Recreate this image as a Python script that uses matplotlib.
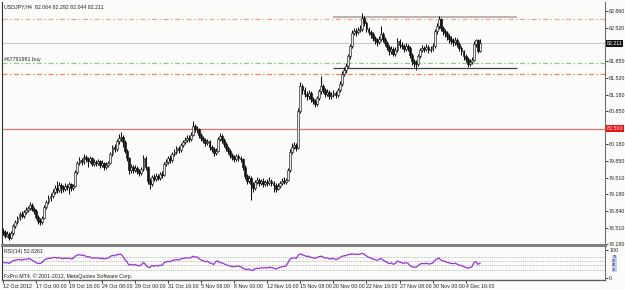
"""
USDJPY H4 chart with RSI(14) sub-window, MetaTrader style
"""
import matplotlib
matplotlib.use('Agg')
import matplotlib.pyplot as plt

plt.rcParams['font.family'] = ['Liberation Sans', 'DejaVu Sans']

# ---------------------------------------------------------------------------------------------------------------------
# Data
# ---------------------------------------------------------------------------------------------------------------------
first_open = 78.45
closes = [
    78.42, 78.35, 78.38, 78.30, 78.40, 78.55, 78.62, 78.70, 78.78, 78.74,
    78.82, 78.86, 78.90, 78.96, 78.88, 78.84, 78.72, 78.64, 78.62, 78.70,
    78.92, 79.02, 79.10, 79.14, 79.22, 79.30, 79.26, 79.36, 79.32, 79.28,
    79.35, 79.32, 79.38, 79.30, 79.34, 79.62, 79.80, 79.86, 79.82, 79.93,
    79.88, 79.84, 79.90, 79.78, 79.82, 79.80, 79.84, 79.76, 79.80, 79.72,
    79.76, 79.80, 79.98, 80.12, 80.08, 80.24, 80.30, 80.33, 80.22, 80.05,
    79.90, 79.66, 79.72, 79.66, 79.70, 79.64, 79.60, 79.68, 79.90, 79.72,
    79.45, 79.38, 79.52, 79.48, 79.55, 79.50, 79.58, 79.56, 79.78, 79.82,
    79.90, 79.86, 79.98, 80.02, 80.10, 80.06, 80.16, 80.22, 80.26, 80.30,
    80.28, 80.36, 80.55, 80.48, 80.50, 80.36, 80.30, 80.26, 80.20, 80.24,
    80.12, 80.08, 80.00, 80.05, 80.28, 80.34, 80.26, 80.18, 80.10, 80.04,
    79.96, 79.92, 79.88, 79.94, 79.90, 79.88, 79.72, 79.55, 79.45, 79.50,
    79.38, 79.30, 79.42, 79.46, 79.40, 79.44, 79.38, 79.42, 79.40, 79.45,
    79.40, 79.36, 79.28, 79.34, 79.40, 79.44, 79.42, 79.46, 79.66, 80.02,
    80.12, 80.16, 80.10, 80.86, 81.36, 81.28, 81.20, 81.15, 81.22, 81.10,
    81.06, 81.00, 81.12, 81.25, 81.36, 81.28, 81.20, 81.24, 81.15, 81.18,
    81.22, 81.18, 81.27, 81.40, 81.60, 81.68, 81.75, 81.95, 82.15, 82.42,
    82.46, 82.44, 82.48, 82.50, 82.72, 82.62, 82.50, 82.44, 82.40, 82.32,
    82.28, 82.24, 82.30, 82.40, 82.30, 82.22, 82.14, 82.05, 82.10, 82.00,
    82.08, 82.26, 82.18, 82.15, 82.10, 82.16, 82.12, 81.98, 81.85, 81.82,
    81.80, 81.95, 82.08, 82.12, 82.10, 82.14, 82.08, 82.10, 82.16, 82.45,
    82.55, 82.70, 82.52, 82.46, 82.42, 82.36, 82.30, 82.26, 82.24, 82.28,
    82.20, 82.12, 82.05, 81.96, 81.90, 81.80, 81.84, 81.88, 82.20, 82.28,
    82.064, 82.211,
]
highs = [
    78.50, 78.46, 78.44, 78.42, 78.44, 78.58, 78.66, 78.74, 78.82, 78.84,
    78.86, 78.92, 78.95, 79.02, 79.00, 78.92, 78.88, 78.76, 78.70, 78.74,
    78.96, 79.06, 79.16, 79.20, 79.28, 79.36, 79.44, 79.42, 79.40, 79.36,
    79.40, 79.38, 79.42, 79.40, 79.38, 79.66, 79.84, 79.92, 79.90, 79.98,
    79.96, 79.92, 79.94, 79.92, 79.88, 79.86, 79.88, 79.86, 79.86, 79.82,
    79.82, 79.84, 80.02, 80.16, 80.18, 80.28, 80.38, 80.42, 80.36, 80.26,
    80.08, 79.92, 79.78, 79.76, 79.76, 79.74, 79.68, 79.72, 79.96, 79.94,
    79.74, 79.50, 79.56, 79.58, 79.60, 79.58, 79.62, 79.64, 79.82, 79.88,
    79.94, 79.96, 80.02, 80.08, 80.14, 80.14, 80.20, 80.26, 80.32, 80.36,
    80.36, 80.42, 80.65, 80.60, 80.56, 80.52, 80.40, 80.34, 80.30, 80.28,
    80.26, 80.16, 80.12, 80.10, 80.32, 80.40, 80.38, 80.30, 80.22, 80.14,
    80.08, 80.00, 79.96, 79.98, 79.98, 79.94, 79.90, 79.76, 79.58, 79.56,
    79.54, 79.42, 79.46, 79.52, 79.50, 79.48, 79.50, 79.46, 79.48, 79.52,
    79.48, 79.44, 79.40, 79.40, 79.44, 79.50, 79.52, 79.50, 79.70, 80.08,
    80.20, 80.22, 80.20, 80.92, 81.43, 81.40, 81.34, 81.26, 81.28, 81.26,
    81.14, 81.10, 81.16, 81.30, 81.55, 81.40, 81.32, 81.30, 81.28, 81.24,
    81.28, 81.26, 81.32, 81.46, 81.66, 81.74, 81.82, 82.00, 82.20, 82.48,
    82.52, 82.52, 82.54, 82.58, 82.83, 82.76, 82.66, 82.54, 82.48, 82.44,
    82.36, 82.32, 82.36, 82.55, 82.44, 82.34, 82.26, 82.18, 82.16, 82.14,
    82.14, 82.32, 82.30, 82.24, 82.20, 82.22, 82.20, 82.16, 82.02, 81.90,
    81.88, 82.00, 82.12, 82.18, 82.16, 82.20, 82.18, 82.16, 82.22, 82.50,
    82.62, 82.76, 82.72, 82.56, 82.50, 82.46, 82.40, 82.36, 82.32, 82.34,
    82.32, 82.24, 82.16, 82.08, 82.00, 81.94, 81.90, 81.94, 82.26, 82.30,
    82.30, 82.292,
]
lows = [
    78.36, 78.30, 78.32, 78.26, 78.28, 78.37, 78.50, 78.58, 78.66, 78.70,
    78.70, 78.78, 78.82, 78.86, 78.84, 78.78, 78.68, 78.58, 78.56, 78.58,
    78.68, 78.88, 78.98, 79.04, 79.10, 79.18, 79.20, 79.22, 79.20, 79.22,
    79.24, 79.26, 79.18, 79.24, 79.26, 79.32, 79.58, 79.76, 79.76, 79.78,
    79.82, 79.72, 79.80, 79.74, 79.74, 79.74, 79.76, 79.70, 79.72, 79.66,
    79.68, 79.72, 79.78, 79.94, 80.02, 80.04, 80.18, 80.24, 80.12, 80.00,
    79.84, 79.58, 79.60, 79.60, 79.62, 79.58, 79.54, 79.56, 79.64, 79.66,
    79.38, 79.28, 79.34, 79.44, 79.44, 79.46, 79.46, 79.50, 79.54, 79.74,
    79.78, 79.80, 79.82, 79.94, 79.98, 80.00, 80.02, 80.12, 80.18, 80.22,
    80.22, 80.24, 80.34, 80.42, 80.40, 80.30, 80.24, 80.20, 80.14, 80.16,
    80.06, 80.02, 79.94, 79.96, 80.02, 80.24, 80.20, 80.12, 80.04, 79.98,
    79.90, 79.86, 79.82, 79.84, 79.84, 79.82, 79.66, 79.48, 79.38, 79.40,
    79.06, 79.22, 79.26, 79.38, 79.34, 79.36, 79.32, 79.34, 79.34, 79.36,
    79.34, 79.23, 79.22, 79.26, 79.30, 79.36, 79.38, 79.38, 79.44, 79.62,
    79.98, 80.08, 80.04, 80.08, 80.82, 81.20, 81.14, 81.08, 81.10, 81.04,
    81.00, 80.94, 80.96, 81.08, 81.20, 81.22, 81.14, 81.16, 81.10, 81.10,
    81.14, 81.12, 81.14, 81.24, 81.36, 81.56, 81.62, 81.72, 81.90, 82.12,
    82.38, 82.36, 82.40, 82.44, 82.46, 82.56, 82.44, 82.38, 82.32, 82.26,
    82.20, 82.16, 82.20, 82.26, 82.24, 82.16, 82.08, 81.98, 82.00, 81.95,
    81.96, 82.04, 82.12, 82.10, 82.04, 82.06, 82.06, 81.92, 81.78, 81.74,
    81.68, 81.76, 81.92, 82.04, 82.04, 82.06, 82.02, 82.04, 82.06, 82.12,
    82.40, 82.50, 82.46, 82.38, 82.34, 82.28, 82.22, 82.20, 82.16, 82.18,
    82.14, 82.06, 81.98, 81.88, 81.84, 81.74, 81.76, 81.80, 81.86, 82.14,
    82.02, 82.044,
]
opens = [first_open] + closes[:-1]

rsi = [
    56, 54, 55, 52, 58, 62, 64, 65, 66, 64, 66, 67, 68, 69, 64, 60, 55, 52, 52, 56,
    65, 68, 70, 70, 72, 74, 71, 73, 71, 69, 71, 70, 71, 68, 70, 78, 82, 83, 81, 82,
    78, 75, 76, 71, 72, 71, 72, 69, 71, 68, 70, 72, 77, 81, 79, 83, 84, 85, 78, 66,
    58, 46, 49, 46, 48, 45, 43, 47, 56, 48, 40, 37, 44, 42, 45, 43, 46, 45, 55, 57,
    60, 58, 63, 64, 66, 64, 68, 70, 71, 72, 71, 73, 78, 75, 75, 68, 64, 62, 58, 60,
    54, 52, 48, 58, 61, 55, 54, 51, 47, 45, 42, 41, 40, 43, 42, 41, 36, 32, 30, 32,
    28, 27, 33, 35, 34, 37, 35, 37, 36, 39, 37, 35, 32, 35, 38, 40, 41, 43, 55, 68,
    71, 72, 70, 82, 86, 83, 80, 77, 78, 74, 72, 70, 73, 76, 78, 75, 71, 72, 68, 69,
    70, 66, 68, 72, 77, 79, 80, 83, 85, 86, 85, 85, 84, 86, 88, 84, 79, 74, 72, 68,
    66, 63, 66, 70, 64, 60, 56, 51, 54, 49, 52, 61, 57, 55, 52, 55, 53, 45, 40, 39,
    38, 44, 50, 52, 51, 53, 50, 51, 53, 63, 67, 72, 64, 61, 59, 56, 54, 52, 51, 53,
    49, 46, 44, 41, 38, 35, 37, 39, 55, 58, 49, 52.83,
]
rsi_levels = [75, 60, 45, 30]

time_labels = ['12 Oct 2012', '17 Oct 00:00', '19 Oct 16:00', '24 Oct 08:00', '29 Oct 00:00',
               '31 Oct 16:00', '5 Nov 08:00', '8 Nov 00:00', '12 Nov 16:00', '15 Nov 08:00',
               '20 Nov 00:00', '22 Nov 16:00', '27 Nov 08:00', '30 Nov 00:00', '4 Dec 16:00']
time_label_bars = [0, 16, 32, 48, 64, 80, 96, 112, 128, 144, 160, 176, 192, 208, 224]

price_ticks = [82.860, 82.520, 81.850, 81.520, 81.180, 80.850, 80.180,
               79.850, 79.510, 79.180, 78.840, 78.510, 78.180]

bid_price = 82.211
tp_price = 82.70
sl_price = 81.595
order_price = 81.816
alert_price = 80.500
range_top = 82.74
range_bottom = 81.715
range_start, range_end = 160, 249

title = 'USDJPY,H4  82.064 82.292 82.044 82.211'
order_label = '#67791981 buy'
rsi_label = 'RSI(14) 52.8261'
copyright_label = 'FxPro MT4, \u00a9 2001-2012, MetaQuotes Software Corp.'

# ---------------------------------------------------------------------------------------------------------------------
# Figure
# ---------------------------------------------------------------------------------------------------------------------
bg = '#fcfdfa'
fs = 3.8
W, H = 625, 290

fig = plt.figure(figsize=(W / 100, H / 100), dpi=100)
fig.patch.set_facecolor(bg)

ax = fig.add_axes([2 / W, 1 - 245 / H, 603 / W, 243 / H])
ax_rsi = fig.add_axes([2 / W, 1 - 280 / H, 603 / W, 33 / H], sharex=ax)
for a in (ax, ax_rsi):
    a.set_facecolor(bg)

idx = list(range(len(closes)))

# horizontal lines (behind the candles)
dashdot = (0, (4, 2, 1.2, 2))
ax.axhline(bid_price, color='#c8c8c8', lw=0.8, zorder=1)
ax.axhline(tp_price, color='#f5a585', lw=0.9, ls=dashdot, zorder=1)
ax.axhline(sl_price, color='#f28460', lw=0.9, ls=dashdot, zorder=1)
ax.axhline(order_price, color='#8ccc8c', lw=0.9, ls=dashdot, zorder=1)
ax.axhline(alert_price, color='#e87272', lw=0.9, zorder=1)
ax.hlines(range_top, range_start, range_end, color='#a8a8a8', lw=1.2, zorder=1)
ax.hlines(range_bottom, range_start, range_end, color='#404040', lw=0.9, zorder=1)

# candles
ax.vlines(idx, lows, highs, color='#101010', lw=0.75, zorder=3)
bull = [i for i in idx if closes[i] >= opens[i]]
bear = [i for i in idx if closes[i] < opens[i]]
ax.bar(bull, [max(closes[i] - opens[i], 0.008) for i in bull], bottom=[opens[i] for i in bull],
       width=0.9, color='#e8e8e8', edgecolor='#202020', lw=0.45, zorder=4)
ax.bar(bear, [opens[i] - closes[i] for i in bear], bottom=[closes[i] for i in bear],
       width=0.9, color='#101010', edgecolor='#101010', lw=0.45, zorder=4)

ax.set_xlim(-0.5, 291.5)
ax.set_ylim(78.160, 83.041)

ax.yaxis.tick_right()
ax.set_yticks(price_ticks)
ax.set_yticklabels(['%.3f' % p for p in price_ticks])
ax.tick_params(axis='y', length=2, width=0.6, pad=1.0, labelsize=fs, colors='#202020')
ax.tick_params(axis='x', bottom=False, labelbottom=False)

for s in ax.spines.values():
    s.set_visible(False)
ax.spines['left'].set_visible(True)
ax.spines['left'].set_color('#303030')
ax.spines['right'].set_visible(True)
ax.spines['right'].set_color('#707070')
ax.spines['bottom'].set_visible(True)
ax.spines['bottom'].set_color('#808080')
ax.spines['bottom'].set_linewidth(2.2)

# price boxes on the axis
ax.text(1.003, bid_price, '%.3f' % bid_price, transform=ax.get_yaxis_transform(), fontsize=fs,
        color='white', va='center', ha='left',
        bbox=dict(boxstyle='square,pad=0.15', fc='#101010', ec='none'))
ax.text(1.003, alert_price, '%.3f' % alert_price, transform=ax.get_yaxis_transform(), fontsize=fs,
        color='white', va='center', ha='left',
        bbox=dict(boxstyle='square,pad=0.15', fc='#ee1111', ec='none'))

ax.text(0.5, 82.95, title, fontsize=fs, color='#202020', va='center', ha='left')
ax.text(0.5, order_price + 0.02, order_label, fontsize=fs, color='#202020', va='bottom', ha='left')

# ---------------------------------------------------------------------------------------------------------------------
# RSI window
# ---------------------------------------------------------------------------------------------------------------------
for lv in rsi_levels:
    ax_rsi.axhline(lv, color='#a8a8a8', lw=0.6, ls=(0, (1, 1.2)), zorder=1)
ax_rsi.plot(idx, rsi, color='#9b30d9', lw=0.9, zorder=3)
ax_rsi.set_ylim(-7.1, 110.7)

ax_rsi.yaxis.tick_right()
ax_rsi.set_yticks([100, 0])
ax_rsi.set_yticklabels(['100', '0'])
ax_rsi.tick_params(axis='y', length=2, width=0.6, pad=1.0, labelsize=fs, colors='#202020')
for lv in rsi_levels:
    ax_rsi.text(1.012, lv, str(lv), transform=ax_rsi.get_yaxis_transform(), fontsize=2.8,
                color='#203070', va='center', ha='left',
                bbox=dict(boxstyle='square,pad=0.05', fc='#c8d2ec', ec='none'))

ax_rsi.set_xticks(time_label_bars)
ax_rsi.set_xticklabels(time_labels, ha='left')
ax_rsi.tick_params(axis='x', length=2, width=0.6, pad=1.2, labelsize=fs, colors='#202020')

for s in ax_rsi.spines.values():
    s.set_visible(False)
ax_rsi.spines['left'].set_visible(True)
ax_rsi.spines['left'].set_color('#303030')
ax_rsi.spines['right'].set_visible(True)
ax_rsi.spines['right'].set_color('#707070')
ax_rsi.spines['bottom'].set_visible(True)
ax_rsi.spines['bottom'].set_color('#606060')
ax_rsi.spines['bottom'].set_linewidth(1.0)

ax_rsi.text(0.5, 103, rsi_label, fontsize=fs, color='#202020', va='top', ha='left')
ax_rsi.text(0.5, -2, copyright_label, fontsize=fs, color='#202020', va='bottom', ha='left')

fig.savefig('out.png', dpi=100, facecolor=bg)
